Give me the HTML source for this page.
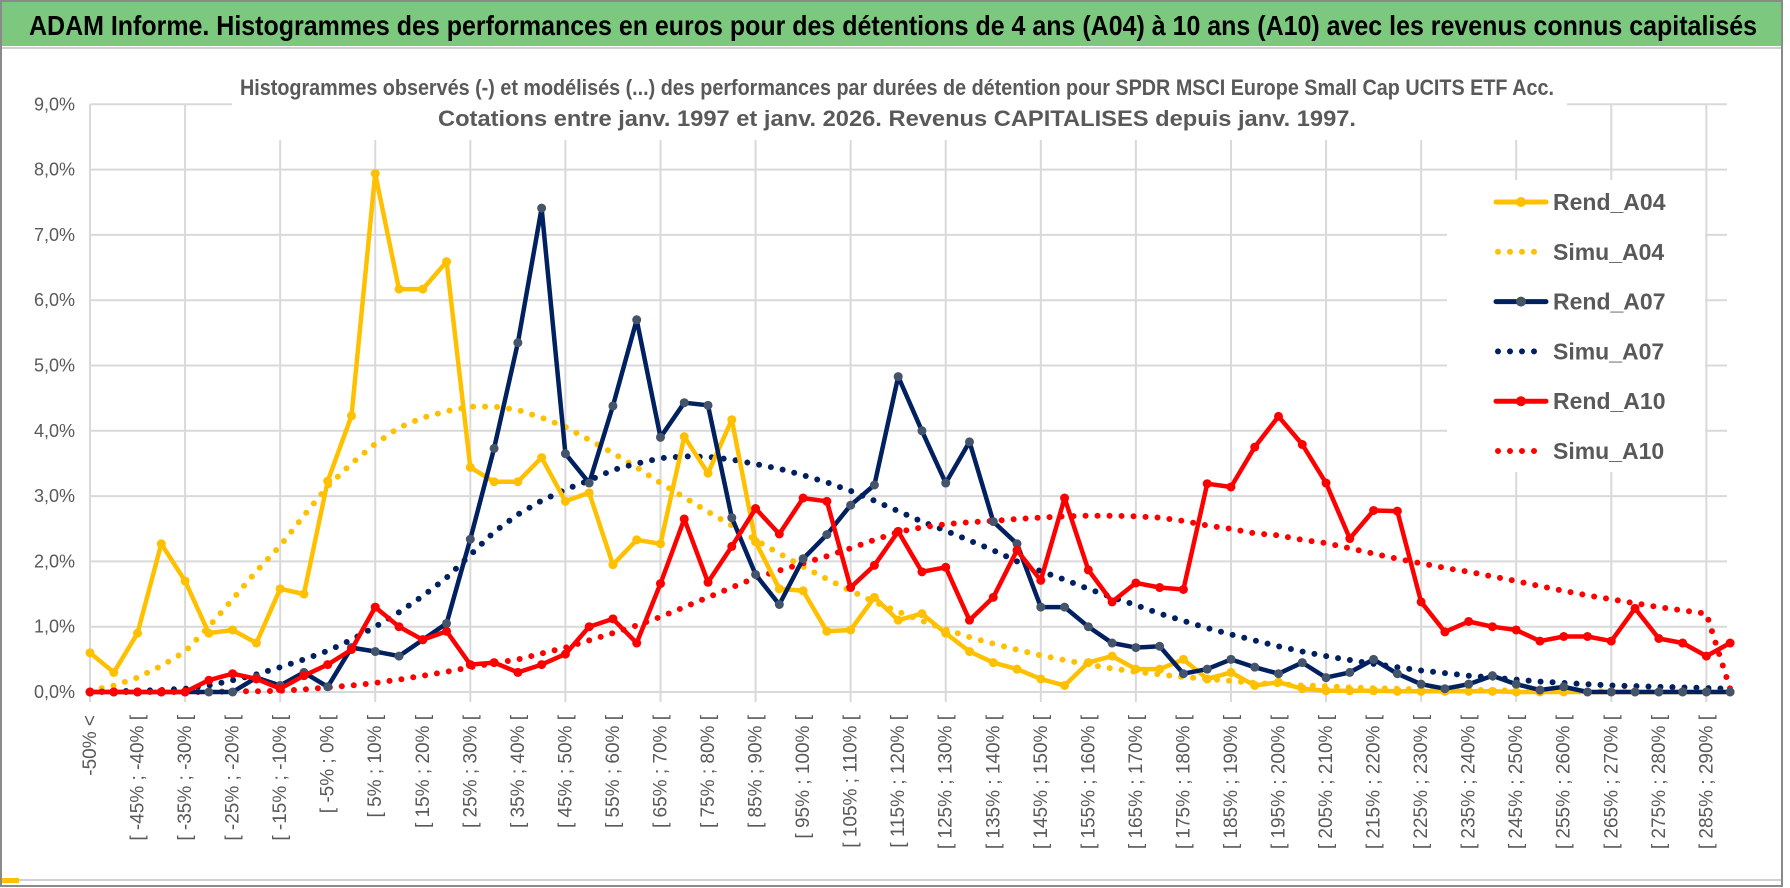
<!DOCTYPE html>
<html><head><meta charset="utf-8">
<style>
html,body{margin:0;padding:0;background:#fff;}
svg{display:block;font-family:"Liberation Sans Narrow","Liberation Sans",sans-serif;}
</style></head>
<body>
<svg id="chart" width="1790" height="888" viewBox="0 0 1790 888" xmlns="http://www.w3.org/2000/svg">
  <rect x="0" y="0" width="1790" height="888" fill="#fff"/>
  <rect x="1" y="1" width="1781" height="885" fill="none" stroke="#8a8a8a" stroke-width="2"/>
  <rect x="2" y="2" width="1779" height="44" fill="#7dc87f"/>
  <line x1="2" y1="48" x2="1781" y2="48" stroke="#d0d0d0" stroke-width="2"/>
  <text x="29" y="35" font-size="28" font-weight="bold" fill="#000" textLength="1728" lengthAdjust="spacingAndGlyphs">ADAM Informe. Histogrammes des performances en euros pour des détentions de 4 ans (A04) à 10 ans (A10) avec les revenus connus capitalisés</text>
  <g id="grid"></g>
  <rect x="232" y="66" width="1335" height="74" fill="#fff"/>
  <text x="897" y="95" font-size="22" font-weight="bold" fill="#595959" text-anchor="middle" textLength="1314" lengthAdjust="spacingAndGlyphs">Histogrammes observés (-) et modélisés (...) des performances par durées de détention pour SPDR MSCI Europe Small Cap UCITS ETF Acc.</text>
  <text x="897" y="126" font-size="22" font-weight="bold" fill="#595959" text-anchor="middle" textLength="918" lengthAdjust="spacingAndGlyphs">Cotations entre janv. 1997 et janv. 2026. Revenus CAPITALISES depuis janv. 1997.</text>
  <g id="yaxis"></g>
  <g id="xaxis"></g>
  <g id="series"></g>
  <g id="legend"></g>
  <line x1="2" y1="880" x2="1781" y2="880" stroke="#d0d0d0" stroke-width="2"/>
  <rect x="2" y="878" width="17" height="5" fill="#ffc000"/>
</svg>
<script>
const yTicks = [0,1,2,3,4,5,6,7,8,9];
const rendA04 = [0.6,0.3,0.9,2.27,1.7,0.9,0.95,0.75,1.58,1.5,3.23,4.23,7.94,6.17,6.17,6.59,3.44,3.22,3.22,3.59,2.92,3.05,1.95,2.33,2.27,3.91,3.35,4.17,2.3,1.58,1.55,0.93,0.95,1.45,1.1,1.2,0.9,0.62,0.45,0.35,0.2,0.1,0.45,0.55,0.35,0.35,0.5,0.2,0.3,0.1,0.15,0.05,0.02,0.02,0.02,0.01,0.01,0.01,0.01,0.01,0,0,0,0,0,0,0,0,0,0];
const simuA04 = [0.02,0.1,0.22,0.4,0.62,1.0,1.42,1.85,2.24,2.7,3.15,3.5,3.8,4.05,4.2,4.3,4.37,4.37,4.32,4.2,4.06,3.86,3.66,3.44,3.2,2.98,2.76,2.55,2.33,2.12,1.92,1.73,1.55,1.38,1.23,1.09,0.96,0.84,0.74,0.65,0.56,0.49,0.42,0.36,0.31,0.27,0.23,0.2,0.17,0.14,0.12,0.1,0.09,0.07,0.06,0.05,0.04,0.04,0.03,0.03,0.02,0.02,0.02,0.01,0.01,0.01,0.01,0.01,0.01,0.01];
const rendA07 = [0,0,0,0,0,0,0,0.22,0.1,0.3,0.08,0.68,0.62,0.55,0.8,1.05,2.34,3.73,5.35,7.41,3.65,3.2,4.38,5.7,3.9,4.43,4.39,2.67,1.8,1.34,2.04,2.41,2.86,3.17,4.83,4.0,3.2,3.83,2.61,2.27,1.3,1.3,1.0,0.75,0.68,0.7,0.28,0.35,0.5,0.38,0.28,0.45,0.22,0.3,0.5,0.28,0.12,0.05,0.12,0.25,0.12,0.03,0.08,0,0,0,0,0,0,0];
const simuA07 = [0,0.01,0.02,0.03,0.05,0.1,0.18,0.27,0.38,0.5,0.63,0.8,1.0,1.22,1.47,1.75,2.1,2.45,2.72,2.93,3.1,3.24,3.4,3.5,3.58,3.61,3.6,3.56,3.49,3.42,3.32,3.21,3.08,2.93,2.77,2.61,2.47,2.32,2.17,2.0,1.85,1.72,1.58,1.45,1.33,1.2,1.09,0.98,0.88,0.79,0.7,0.62,0.55,0.49,0.43,0.38,0.33,0.29,0.25,0.22,0.19,0.16,0.14,0.12,0.1,0.09,0.08,0.07,0.06,0.05];
const rendA10 = [0,0,0,0,0,0.18,0.28,0.2,0.05,0.25,0.42,0.65,1.3,1.0,0.8,0.93,0.42,0.45,0.3,0.42,0.58,1.0,1.12,0.75,1.66,2.65,1.68,2.23,2.81,2.42,2.97,2.92,1.6,1.94,2.46,1.84,1.91,1.1,1.45,2.17,1.71,2.97,1.87,1.38,1.67,1.6,1.57,3.19,3.14,3.75,4.22,3.79,3.2,2.35,2.78,2.77,1.38,0.92,1.08,1.0,0.95,0.78,0.85,0.85,0.78,1.28,0.82,0.75,0.55,0.75];
const simuA10 = [0,0,0,0,0,0,0.01,0.01,0.02,0.04,0.07,0.1,0.14,0.19,0.25,0.31,0.38,0.44,0.5,0.59,0.68,0.79,0.9,1.02,1.15,1.3,1.45,1.6,1.75,1.86,1.97,2.08,2.2,2.33,2.45,2.52,2.57,2.6,2.62,2.65,2.67,2.69,2.7,2.7,2.69,2.67,2.62,2.55,2.5,2.43,2.4,2.33,2.28,2.2,2.12,2.04,1.97,1.9,1.84,1.77,1.7,1.62,1.55,1.48,1.42,1.36,1.3,1.25,1.2,0.05];
const categories = ["-50% <"];
for (let k = 1; k < 70; k++) categories.push("[ " + (-55 + 5*k) + "% ; " + (-50 + 5*k) + "% [");

const NS = "http://www.w3.org/2000/svg";
const X0 = 90, DX = 23.77, Y0 = 692, DY = 65.3;
function xPos(i){ return X0 + i*DX; }
function yPos(v){ return Y0 - v*DY; }
function mk(tag, attrs, parent){
  const e = document.createElementNS(NS, tag);
  for (const k in attrs) e.setAttribute(k, attrs[k]);
  parent.appendChild(e);
  return e;
}
const grid = document.getElementById('grid');
const yaxis = document.getElementById('yaxis');
const xaxis = document.getElementById('xaxis');
const seriesG = document.getElementById('series');
const legend = document.getElementById('legend');
const xRight = 1727;

yTicks.forEach(t => {
  const l = mk('line', {x1:X0, x2:xRight, y1:yPos(t), y2:yPos(t), stroke:'#d9d9d9', 'stroke-width':2}, grid);
  
  
  const tx = mk('text', {x:75, y:yPos(t)+6, 'font-size':18, fill:'#595959', 'text-anchor':'end', 'font-family':'Liberation Sans, sans-serif'}, yaxis);
  tx.textContent = t.toFixed(1).replace('.', ',') + '%';
  
  
});
categories.forEach((c, i) => {
  if (i % 4 === 0) {
    const l = mk('line', {x1:xPos(i), x2:xPos(i), y1:yPos(9), y2:Y0+10, stroke:'#d9d9d9', 'stroke-width':2}, grid);
    
    
  }
  if (i % 2 === 0) {
    const x = xPos(i) + 6, y = 715;
    const tx = mk('text', {x:x, y:y, 'font-size':19, fill:'#595959', 'text-anchor':'end', 'font-family':'Liberation Sans, sans-serif', transform:'rotate(-90 '+x+' '+y+')'}, xaxis);
    tx.textContent = c;
    
    
  }
});
const series = [
  {name:'Rend_A04', vals:rendA04, color:'#ffc000', marker:'#ffc000', dotted:false},
  {name:'Simu_A04', vals:simuA04, color:'#ffc000', dotted:true},
  {name:'Rend_A07', vals:rendA07, color:'#002060', marker:'#44546a', dotted:false},
  {name:'Simu_A07', vals:simuA07, color:'#002060', dotted:true},
  {name:'Rend_A10', vals:rendA10, color:'#ff0000', marker:'#ff0000', dotted:false},
  {name:'Simu_A10', vals:simuA10, color:'#ff0000', dotted:true}
];
const drawOrder = [1,3,5,0,2,4];
drawOrder.forEach(si => {
  const s = series[si];
  const pts = s.vals.map((v,i) => xPos(i).toFixed(1) + ',' + yPos(v).toFixed(1)).join(' ');
  const attrs = {points:pts, fill:'none', stroke:s.color, 'stroke-linejoin':'round'};
  if (s.dotted) { attrs['stroke-width'] = 6; attrs['stroke-dasharray'] = '0 12'; attrs['stroke-linecap'] = 'round'; }
  else { attrs['stroke-width'] = 4.5; }
  const pl = mk('polyline', attrs, seriesG);
  
  
  if (!s.dotted) {
    s.vals.forEach((v,i) => {
      const c = mk('circle', {cx:xPos(i), cy:yPos(v), r:4.5, fill:s.marker}, seriesG);
      
      
    });
  }
});
// legend
const lb = mk('rect', {x:1447, y:180, width:258, height:292, fill:'#fff'}, legend);


series.forEach((s, k) => {
  const y = 202 + k*49.8;
  const la = {x1:1496, x2:1546, y1:y, y2:y, stroke:s.color};
  if (s.dotted) { la['stroke-width'] = 6; la['stroke-dasharray'] = '0 12'; la['stroke-linecap'] = 'round'; la.x1 = 1498; }
  else { la['stroke-width'] = 5; la['stroke-linecap'] = 'round'; }
  const l = mk('line', la, legend);
  
  
  if (!s.dotted) {
    const c = mk('circle', {cx:1521, cy:y, r:5, fill:s.marker}, legend);
    
    
  }
  const t = mk('text', {x:1553, y:y+8, 'font-size':23, 'font-weight':'bold', fill:'#595959'}, legend);
  t.textContent = s.name;
  
  
});
</script>
</body></html>
